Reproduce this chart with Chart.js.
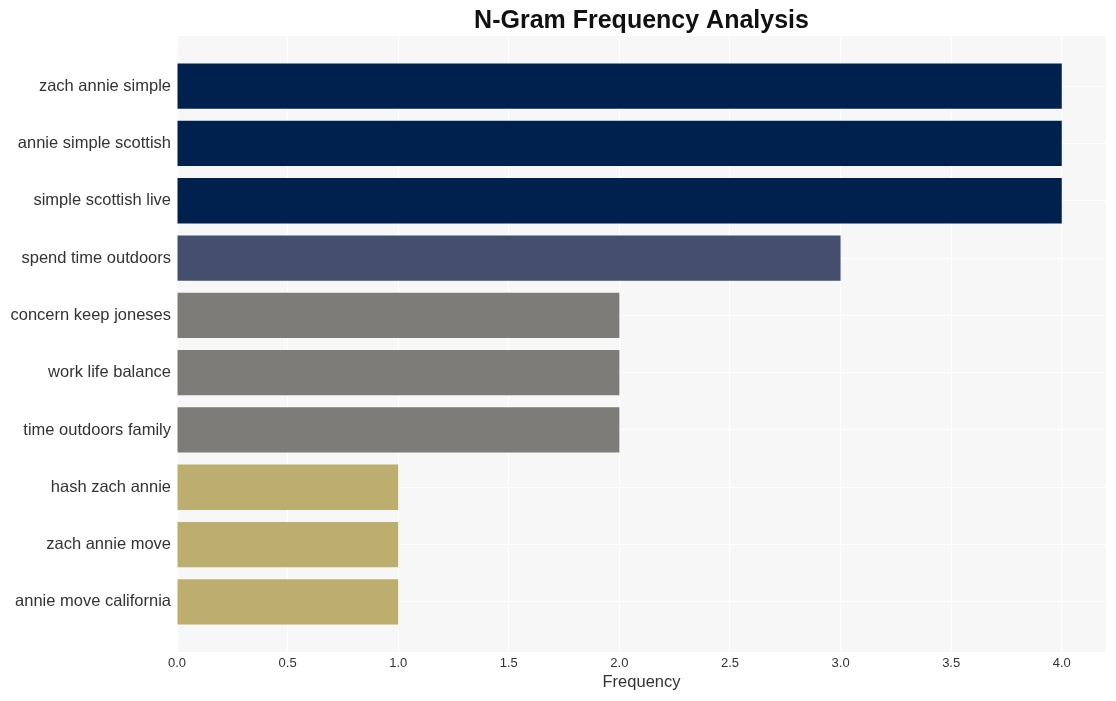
<!DOCTYPE html>
<html>
<head>
<meta charset="utf-8">
<script src="https://cdn.jsdelivr.net/npm/chart.js@4/dist/chart.umd.min.js"></script>
<style>
html,body{margin:0;padding:0;background:#fff;}
#wrap{width:1116px;height:701px;}
</style>
</head>
<body>
<div id="wrap"><canvas id="c" width="1116" height="701"></canvas></div>
<script>
const categories = ["zach annie simple","annie simple scottish","simple scottish live","spend time outdoors","concern keep joneses","work life balance","time outdoors family","hash zach annie","zach annie move","annie move california"];
const frequencies = [4,4,4,3,2,2,2,1,1,1];
const barColors = ["#00214e","#00214e","#00214e","#434f6c","#7d7c78","#7d7c78","#7d7c78","#bcae6f","#bcae6f","#bcae6f"];
const xTicks = [0,0.5,1,1.5,2,2.5,3,3.5,4];

const plotBg = {
  id:'plotBg',
  beforeDraw(chart){
    const {ctx, chartArea:a} = chart;
    ctx.save();
    ctx.fillStyle = '#f7f7f7';
    ctx.fillRect(a.left, a.top, a.right-a.left, a.bottom-a.top);
    ctx.restore();
  }
};

const FONT = "'Liberation Sans', Arial, Helvetica, sans-serif";

new Chart(document.getElementById('c'), {
  type:'bar',
  data:{
    datasets:[{
      data: frequencies.map((v,i)=>({x:v, y:i})),
      backgroundColor: barColors,
      borderWidth:0,
      categoryPercentage:1,
      barPercentage:0.79
    }]
  },
  options:{
    indexAxis:'y',
    responsive:false,
    animation:false,
    devicePixelRatio:1,
    layout:{padding:{left:0,right:10,top:0,bottom:9}},
    plugins:{
      legend:{display:false},
      tooltip:{enabled:false},
      title:{
        display:true,
        text:'N-Gram Frequency Analysis',
        fullSize:false,
        color:'#111',
        font:{family:FONT, size:25, weight:'bold', lineHeight:1.1},
        padding:{top:7,bottom:1.5}
      }
    },
    scales:{
      x:{
        type:'linear',
        offset:false,
        min:0, max:4.2,
        afterBuildTicks(s){ s.ticks = xTicks.map(v=>({value:v})); },
        afterFit(s){ s.height = 40; },
        grid:{color:'#ffffff', lineWidth:1, drawTicks:false, offset:false},
        border:{display:false},
        ticks:{
          color:'#333',
          padding:4,
          font:{family:FONT, size:13},
          callback:(v)=>Number(v).toFixed(1)
        },
        title:{display:true, text:'Frequency', color:'#333', font:{family:FONT, size:16.5}, padding:{top:0,bottom:0}}
      },
      y:{
        type:'linear',
        reverse:true,
        offset:false,
        min:-0.875, max:categories.length-1+0.875,
        afterBuildTicks(s){ s.ticks = categories.map((c,i)=>({value:i})); },
        afterFit(s){ s.width = 177; },
        grid:{color:'#ffffff', lineWidth:1, drawTicks:false, offset:false},
        border:{display:false},
        ticks:{
          color:'#333',
          padding:6,
          autoSkip:false,
          font:{family:FONT, size:16.5},
          callback:(v)=>categories[v]
        }
      }
    }
  },
  plugins:[plotBg]
});
</script>
</body>
</html>
